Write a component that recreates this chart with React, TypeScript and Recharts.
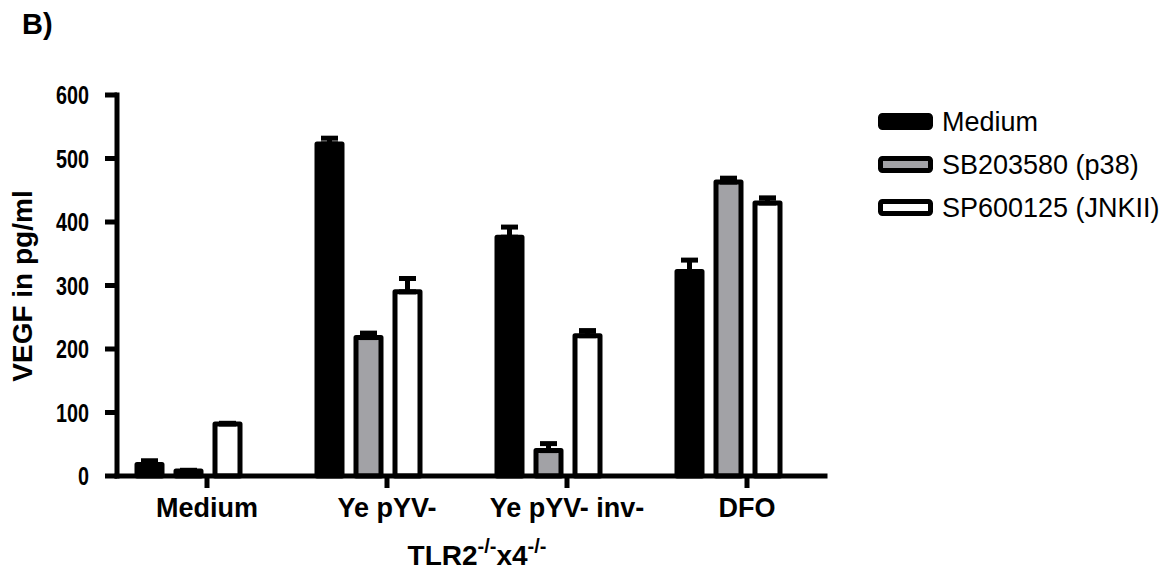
import { Bar, BarChart, ErrorBar, Legend, XAxis, YAxis } from 'recharts';

const CATEGORIES = ['Medium', 'Ye pYV-', 'Ye pYV- inv-', 'DFO'];
const SERIES_NAMES = ['Medium', 'SB203580 (p38)', 'SP600125 (JNKII)'];
const MEDIUM_VALUES = [18, 523, 376, 322];
const MEDIUM_ERRORS = [6, 9, 16, 18];
const SB_VALUES = [8, 218, 40, 463];
const SB_ERRORS = [1, 7, 11, 6];
const SP_VALUES = [82, 290, 221, 430];
const SP_ERRORS = [1, 21, 8, 8];
const Y_TICKS = [0, 100, 200, 300, 400, 500, 600];

const SERIES_FILLS = ['#000000', '#a2a2a6', '#ffffff'];
const FONT = '"Liberation Sans", Arial, Helvetica, sans-serif';

// Prism draws the category tick to the right of the bar group.
const TICK_SHIFT = 19;

// Errors are drawn above the bar only, so the low side is 0.
const rows = CATEGORIES.map((name, i) => ({
  name,
  medium: MEDIUM_VALUES[i],
  mediumErr: [0, MEDIUM_ERRORS[i]],
  sb: SB_VALUES[i],
  sbErr: [0, SB_ERRORS[i]],
  sp: SP_VALUES[i],
  spErr: [0, SP_ERRORS[i]],
}));

const SERIES = [
  { key: 'medium', err: 'mediumErr' },
  { key: 'sb', err: 'sbErr' },
  { key: 'sp', err: 'spErr' },
];

function CategoryTick(props: any) {
  const { x, y, payload } = props;
  const cx = x + TICK_SHIFT;
  return (
    <g>
      <line x1={cx} y1={y} x2={cx} y2={y + 12} stroke="#000" strokeWidth={5} />
      <text x={cx} y={y + 41} textAnchor="middle" fontSize={27} fontWeight="bold" fontFamily={FONT} fill="#000">
        {payload.value}
      </text>
    </g>
  );
}

function ValueTick(props: any) {
  const { x, y, payload } = props;
  return (
    <g transform={`translate(${x},${y}) scale(0.76,1)`}>
      <text x={0} y={0} dy={9.3} textAnchor="end" fontSize={26} fontWeight="bold" fontFamily={FONT} fill="#000">
        {payload.value}
      </text>
    </g>
  );
}

function XTitle(props: any) {
  const { viewBox } = props;
  const cx = viewBox.x + viewBox.width / 2 + 6;
  return (
    <text x={cx} y={557} textAnchor="middle" fontSize={28} fontWeight="bold" fontFamily={FONT} fill="#000">
      TLR2
      <tspan fontSize={20} dy={-12}>-/-</tspan>
      <tspan dy={12}>x4</tspan>
      <tspan fontSize={20} dy={-12}>-/-</tspan>
    </text>
  );
}

function YTitle() {
  return (
    <g>
      <text
        x={24}
        y={278}
        transform="rotate(-90, 24, 278)"
        textAnchor="middle"
        fontSize={28}
        fontWeight="bold"
        fontFamily={FONT}
        fill="#000"
      >
        VEGF in pg/ml
      </text>
      <text x={14} y={26} fontSize={29} fontWeight="bold" fontFamily={FONT} fill="#000">
        B)
      </text>
    </g>
  );
}

function LegendBox() {
  return (
    <svg width={300} height={140}>
      {SERIES_NAMES.map((name, i) => {
        const cy = 21.5 + 43 * i;
        return (
          <g key={name}>
            <rect
              x={10.5}
              y={cy - 6}
              width={50}
              height={12}
              rx={2}
              fill={SERIES_FILLS[i]}
              stroke="#000"
              strokeWidth={5}
            />
            <text x={72} y={cy + 9.7} fontSize={27} fontFamily={FONT} fill="#000">
              {name}
            </text>
          </g>
        );
      })}
    </svg>
  );
}

export default function App() {
  return (
    <div style={{ width: 1151, height: 562 }}>
      <BarChart
        width={1151}
        height={562}
        data={rows}
        margin={{ top: 87, right: 334, bottom: 0, left: 0 }}
        barSize={25}
        barGap={14}
      >
        <XAxis
          dataKey="name"
          height={94}
          padding={{ left: -19, right: 7 }}
          axisLine={{ stroke: '#000', strokeWidth: 5, strokeLinecap: 'square' }}
          tickLine={false}
          tickSize={0}
          tickMargin={0}
          tick={<CategoryTick />}
          interval={0}
          label={<XTitle />}
        />
        <YAxis
          width={109}
          domain={[0, 600]}
          ticks={Y_TICKS}
          interval={0}
          axisLine={{ stroke: '#000', strokeWidth: 5, strokeLinecap: 'square' }}
          tickLine={{ stroke: '#000', strokeWidth: 5 }}
          tickSize={12}
          tickMargin={16}
          tick={<ValueTick />}
          label={<YTitle />}
        />
        <Legend
          layout="vertical"
          align="center"
          verticalAlign="middle"
          wrapperStyle={{ left: 862, top: 92, width: 300 }}
          content={<LegendBox />}
        />
        {SERIES.map((s, i) => (
          <Bar
            key={s.key}
            dataKey={s.key}
            name={SERIES_NAMES[i]}
            fill={SERIES_FILLS[i]}
            stroke="#000"
            strokeWidth={5}
            strokeLinejoin="round"
            isAnimationActive={false}
          >
            <ErrorBar dataKey={s.err} width={8.5} stroke="#000" strokeWidth={5} direction="y" />
          </Bar>
        ))}
      </BarChart>
    </div>
  );
}
